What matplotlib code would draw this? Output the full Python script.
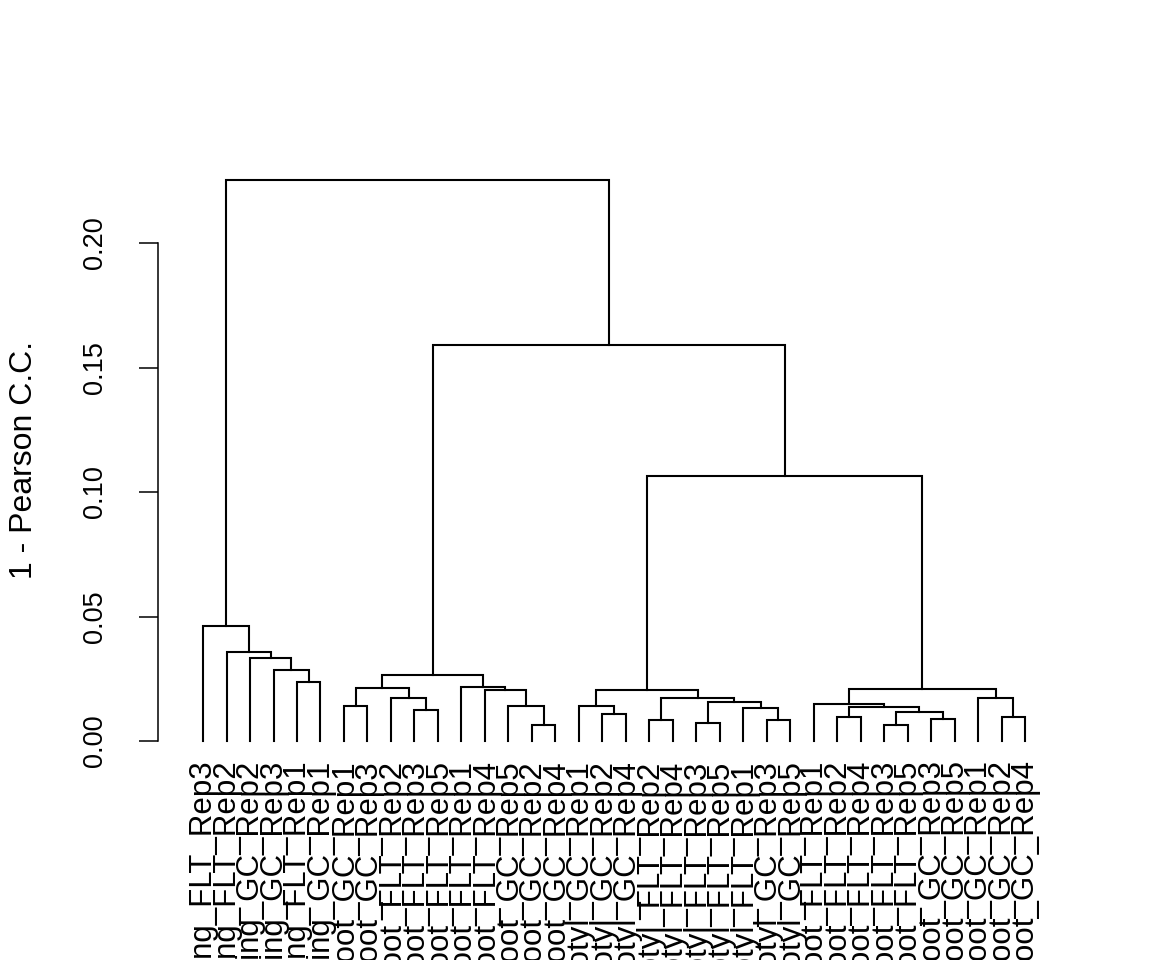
import matplotlib
matplotlib.use("Agg")
import matplotlib.pyplot as plt

plt.rcParams['font.family'] = ['Liberation Sans', 'DejaVu Sans']

# leaf labels in display order (left to right)
labels = [
    "Seedling_FLT_Rep3", "Seedling_FLT_Rep2", "Seedling_GC_Rep2", "Seedling_GC_Rep3",
    "Seedling_FLT_Rep1", "Seedling_GC_Rep1",
    "Root_GC_Rep1", "Root_GC_Rep3", "Root_FLT_Rep2", "Root_FLT_Rep3", "Root_FLT_Rep5",
    "Root_FLT_Rep1", "Root_FLT_Rep4", "Root_GC_Rep5", "Root_GC_Rep2", "Root_GC_Rep4",
    "Hypocotyl_GC_Rep1", "Hypocotyl_GC_Rep2", "Hypocotyl_GC_Rep4", "Hypocotyl_FLT_Rep2",
    "Hypocotyl_FLT_Rep4", "Hypocotyl_FLT_Rep3", "Hypocotyl_FLT_Rep5", "Hypocotyl_FLT_Rep1",
    "Hypocotyl_GC_Rep3", "Hypocotyl_GC_Rep5",
    "Shoot_FLT_Rep1", "Shoot_FLT_Rep2", "Shoot_FLT_Rep4", "Shoot_FLT_Rep3", "Shoot_FLT_Rep5",
    "Shoot_GC_Rep3", "Shoot_GC_Rep5", "Shoot_GC_Rep1", "Shoot_GC_Rep2", "Shoot_GC_Rep4",
]

# hclust-style merges: negative = leaf (1-based position), positive = earlier merge
merge_left = [-5, -4, -3, -2, -1,
              -7, -10, -9, 6, -15, -14, -13, -12, 9,
              -18, -17, -20, -22, -25, -24, 18, 17, 16,
              -28, -30, -32, 25, 24, -27, -35, -34, 29,
              23, 14, 5]
merge_right = [-6, 1, 2, 3, 4,
               -8, -11, 7, 8, -16, 10, 11, 12, 13,
               -19, 15, -21, -23, -26, 19, 20, 21, 22,
               -29, -31, -33, 26, 27, 28, -36, 30, 31,
               32, 33, 34]
merge_height = [0.0237, 0.0285, 0.0333, 0.0357, 0.0462,
                0.0142, 0.0124, 0.0174, 0.0213, 0.0063, 0.0141, 0.0206, 0.0217, 0.0264,
                0.0108, 0.0141, 0.0084, 0.0071, 0.0084, 0.0131, 0.0155, 0.0174, 0.0205,
                0.0095, 0.0063, 0.0087, 0.0118, 0.0138, 0.0149, 0.0095, 0.0174, 0.0207,
                0.1064, 0.1590, 0.2253]

fig = plt.figure(figsize=(11.52, 9.6), dpi=100)
ax = fig.add_axes([0.1372, 0.2177, 0.7917, 0.6057])

node_x = {}
node_h = {}


def pos(ref):
    if ref < 0:
        return -ref, 0.0
    return node_x[ref], node_h[ref]


for i, (a, b, h) in enumerate(zip(merge_left, merge_right, merge_height), start=1):
    xa, ha = pos(a)
    xb, hb = pos(b)
    ax.plot([xa, xa, xb, xb], [ha, h, h, hb], color='black', lw=1.5,
            solid_joinstyle='miter', solid_capstyle='projecting')
    node_x[i] = (xa + xb) / 2
    node_h[i] = h

n = len(labels)
ax.set_xlim(1 - 1.916, n + 1.916)
ax.set_ylim(-0.004, 0.2295)

ax.set_xticks(range(1, n + 1))
ax.set_xticklabels(labels, rotation=90, fontsize=22.5)
ax.tick_params(axis='x', length=0, pad=6)

yt = [0.0, 0.05, 0.10, 0.15, 0.20]
ax.set_yticks(yt)
ax.set_yticklabels(["%.2f" % v for v in yt], rotation=90, va='center', fontsize=19.5)
ax.tick_params(axis='y', length=13.7, width=1.1, pad=22)

for s in ['top', 'right', 'bottom']:
    ax.spines[s].set_visible(False)
ax.spines['left'].set_bounds(0, 0.2)
ax.spines['left'].set_linewidth(1.1)

ax.set_ylabel("1 - Pearson C.C.", fontsize=23)
ax.yaxis.set_label_coords(-0.1305, 0.5)

fig.savefig("out.png", dpi=100)
plt.close()
